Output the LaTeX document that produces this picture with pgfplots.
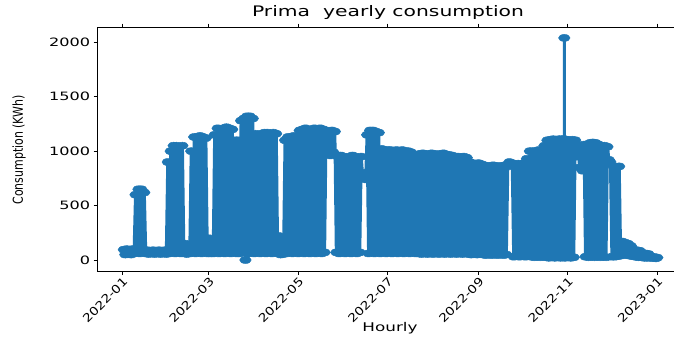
\documentclass[border=0pt]{standalone}
\usepackage{fontspec}
\usepackage{graphicx}
\usepackage{pgfplots}
\pgfplotsset{compat=1.18}
\setmainfont{DejaVu Sans}
\newfontfamily\wfont{DejaVu Sans}[FakeStretch=1.4]
\newfontfamily\tfont{DejaVu Sans}[FakeStretch=1.2]
\newfontfamily\yfont{DejaVu Sans}[FakeStretch=0.8]
\definecolor{mplblue}{HTML}{1F77B4}
\begin{document}
\begin{tikzpicture}
\begin{axis}[
  at={(97.7pt,68pt)}, anchor=south west,
  scale only axis, width=586.3pt, height=243.3pt,
  xmin=-16.8, xmax=383.2, ymin=-101, ymax=2134,
  axis line style={line width=0.9pt},
  tick align=outside, major tick length=4pt,
  tick style={black, line width=0.9pt},
  xtick={0,59,120,181,243,304,365},
  xticklabels={2022-01,2022-03,2022-05,2022-07,2022-09,2022-11,2023-01},
  xticklabel style={rotate=45, anchor=north east, inner sep=1pt, font=\tfont\fontsize{11.5}{13}\selectfont},
  ytick={0,500,1000,1500,2000},
  yticklabel style={font=\wfont\fontsize{11.5}{13}\selectfont},
  /pgf/number format/assume math mode=true,
  /pgf/number format/1000 sep={},
  clip=true,
]
\addplot[color=mplblue, line width=3pt, line join=round, line cap=round, mark=*, mark size=3.5pt,
  mark options={solid, xscale=1.65, line width=0.5pt, draw=mplblue, fill=mplblue}]
  table[row sep=\\] {
x y\\
1 95\\ 2 50\\ 3 100\\ 4 55\\ 5 95\\ 6 50\\ 7 100\\
8 60\\ 9 600\\ 10 70\\ 11 650\\ 12 60\\ 13 650\\ 14 70\\ 15 620\\
16 60\\ 17 90\\ 18 55\\ 19 85\\ 20 60\\ 21 90\\ 22 55\\ 23 85\\ 24 60\\ 25 90\\ 26 55\\ 27 85\\ 28 60\\ 29 90\\ 30 55\\
31 900\\ 32 60\\ 33 1000\\ 34 70\\ 35 1050\\ 36 60\\ 37 1050\\ 38 70\\ 39 1040\\ 40 60\\ 41 1050\\ 42 70\\
43 150\\ 44 55\\ 45 120\\
46 60\\ 47 1000\\ 48 70\\ 49 1130\\ 50 60\\ 51 1130\\ 52 70\\ 53 1140\\ 54 60\\ 55 1130\\ 56 70\\ 57 1120\\ 58 60\\
59 200\\ 60 60\\ 61 180\\ 62 60\\
63 1150\\ 64 70\\ 65 1210\\ 66 60\\ 67 1200\\ 68 70\\ 69 1210\\ 70 60\\ 71 1220\\ 72 70\\ 73 1210\\ 74 60\\ 75 1200\\
76 70\\ 77 1100\\ 78 60\\ 79 1100\\
80 60\\ 81 1280\\ 82 70\\ 83 1300\\ 84 0\\ 85 1320\\ 86 60\\ 87 1320\\ 88 70\\ 89 1300\\ 90 60\\
91 1160\\ 92 70\\ 93 1150\\ 94 60\\ 95 1160\\ 96 70\\
97 1170\\ 98 60\\ 99 1170\\ 100 70\\ 101 1160\\ 102 60\\ 103 1170\\ 104 70\\ 105 1160\\ 106 60\\
107 220\\ 108 50\\ 109 200\\ 110 55\\
111 1100\\ 112 60\\ 113 1130\\ 114 70\\ 115 1130\\ 116 60\\ 117 1140\\ 118 70\\ 119 1130\\ 120 60\\
121 1190\\ 122 70\\ 123 1200\\ 124 60\\ 125 1210\\ 126 70\\ 127 1190\\ 128 60\\ 129 1200\\ 130 70\\
131 1210\\ 132 60\\ 133 1190\\ 134 70\\ 135 1210\\ 136 60\\ 137 1200\\ 138 70\\
139 1190\\ 140 980\\ 141 1180\\ 142 960\\ 143 1190\\ 144 990\\ 145 1180\\ 146 70\\
147 950\\ 148 60\\ 149 960\\ 150 70\\ 151 950\\ 152 60\\ 153 940\\ 154 70\\ 155 950\\ 156 60\\
157 960\\ 158 70\\ 159 950\\ 160 60\\ 161 940\\ 162 70\\ 163 950\\
164 760\\ 165 800\\ 166 740\\
167 1150\\ 168 60\\ 169 1190\\ 170 70\\ 171 1190\\ 172 60\\ 173 1180\\ 174 70\\ 175 1170\\ 176 60\\
177 1020\\ 178 70\\ 179 1010\\ 180 60\\ 181 1010\\ 182 70\\ 183 1010\\ 184 60\\ 185 1000\\ 186 70\\
187 1010\\ 188 60\\ 189 1000\\ 190 70\\ 191 1010\\ 192 60\\ 193 1000\\ 194 70\\ 195 1000\\ 196 60\\ 197 990\\ 198 70\\
199 950\\ 200 60\\ 201 950\\
202 60\\ 203 975\\ 204 55\\ 205 980\\ 206 60\\ 207 975\\ 208 55\\ 209 970\\ 210 60\\ 211 980\\
212 55\\ 213 975\\ 214 60\\ 215 970\\ 216 55\\ 217 975\\ 218 60\\ 219 980\\ 220 55\\ 221 970\\
222 60\\ 223 965\\ 224 55\\ 225 960\\
226 60\\ 227 950\\ 228 55\\ 229 950\\ 230 60\\ 231 945\\ 232 55\\ 233 950\\ 234 60\\ 235 940\\ 236 55\\
237 900\\ 238 50\\ 239 890\\ 240 55\\ 241 885\\ 242 50\\ 243 890\\ 244 55\\ 245 880\\
246 50\\ 247 870\\ 248 45\\ 249 865\\ 250 50\\ 251 860\\ 252 45\\ 253 870\\ 254 50\\ 255 865\\
256 45\\ 257 860\\ 258 50\\ 259 865\\ 260 45\\ 261 870\\ 262 50\\
263 860\\ 264 900\\ 265 880\\ 266 890\\
267 30\\ 268 880\\ 269 35\\ 270 885\\ 271 30\\ 272 880\\ 273 35\\ 274 890\\ 275 30\\ 276 930\\ 277 35\\ 278 1000\\
279 30\\ 280 1000\\ 281 25\\ 282 1000\\ 283 30\\ 284 1010\\ 285 25\\ 286 1000\\ 287 30\\ 288 1050\\ 289 25\\
290 1100\\ 291 20\\ 292 1105\\ 293 25\\ 294 1110\\ 295 20\\ 296 1100\\ 297 25\\ 298 1110\\ 299 20\\
300 1110\\ 301 25\\ 301.5 1110\\ 301.52 2040\\ 301.54 1100\\ 302 20\\ 303 1105\\ 304 25\\ 305 1100\\ 306 20\\ 307 1105\\ 308 25\\
309 1100\\ 310 950\\ 311 1000\\ 312 850\\ 313 1050\\ 314 820\\ 315 1060\\
316 30\\ 317 1050\\ 318 25\\ 319 1075\\ 320 30\\ 321 1080\\ 322 25\\ 323 1075\\ 324 30\\ 325 1060\\
326 25\\ 327 1050\\ 328 30\\ 329 1050\\ 330 25\\
331 1040\\ 332 920\\ 333 900\\
334 30\\ 335 860\\ 336 30\\ 337 850\\ 338 35\\ 339 860\\ 340 40\\
341 170\\ 342 50\\ 343 160\\ 344 45\\ 345 150\\ 346 40\\ 347 130\\
348 35\\ 349 95\\ 350 30\\ 351 90\\ 352 25\\ 353 85\\ 354 25\\
355 65\\ 356 20\\ 357 60\\ 358 20\\ 359 55\\ 360 20\\
361 30\\ 362 18\\ 363 28\\ 364 15\\ 365 22\\
};
\end{axis}
\node[font=\wfont\fontsize{14.5}{16}\selectfont] at (388pt,326pt) {Prima\ \ yearly consumption};
\node[font=\wfont\fontsize{12}{14}\selectfont] at (390pt,11pt) {Hourly};
\node[rotate=90, font=\yfont\fontsize{13.7}{15}\selectfont] at (19pt,189pt) {Consumption (KWh)};
\pgfresetboundingbox
\path[use as bounding box] (0,0) rectangle (674pt,339pt);
\end{tikzpicture}
\end{document}
